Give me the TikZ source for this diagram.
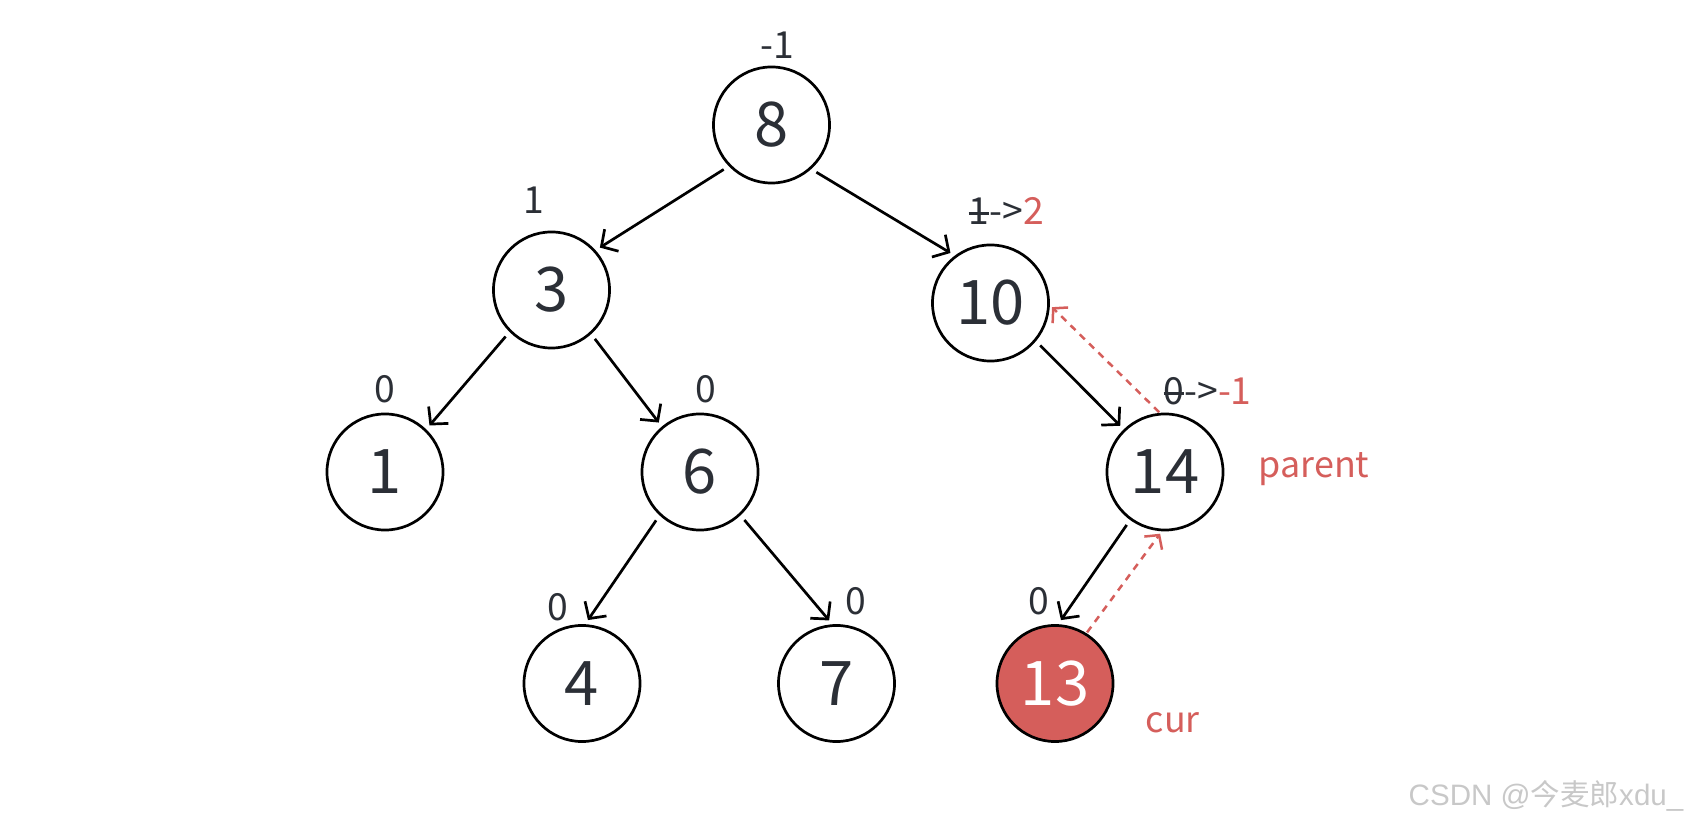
\documentclass[tikz,border=0pt]{standalone}
\usepackage{fontspec}
\setmainfont{Noto Sans CJK SC}
\newfontfamily\wmfont{Liberation Sans}
\newfontfamily\wmcjk{Noto Sans CJK SC}
\usetikzlibrary{arrows.meta}
\definecolor{txt}{HTML}{2B2F36}
\definecolor{redA}{HTML}{D55E5B}
\definecolor{wm}{HTML}{C8C8C8}
\newcommand\mystrike[1]{\setbox0\hbox{#1}\rlap{\rule[0.26em]{\wd0}{0.07em}}#1}
\begin{document}
\begin{tikzpicture}[x=0.01cm,y=-0.01cm,
  nd/.style={circle,draw=black,line width=0.027cm,minimum size=1.16cm,inner sep=0pt,text=txt,font=\fontsize{17.5pt}{20pt}\selectfont},
  lb/.style={inner sep=0pt,text=txt,font=\fontsize{10.6pt}{13pt}\selectfont},
  rl/.style={inner sep=0pt,text=redA,font=\fontsize{10.2pt}{13pt}\selectfont},
  arr/.style={-{Straight Barb[length=0.12cm,width=0.26cm]},line width=0.027cm,shorten <=0.06cm,shorten >=0.05cm},
  rarr/.style={-{Straight Barb[length=0.1cm,width=0.22cm]},draw=redA,line width=0.025cm,dash pattern=on 0.07cm off 0.06cm,shorten <=0.01cm,shorten >=0.03cm}]
\useasboundingbox (0,0) rectangle (1697,828);
% nodes
\node[nd] (n8) at (771.5,125) {8};
\node[nd] (n3) at (551.5,290) {3};
\node[nd] (n10) at (990.5,303) {10};
\node[nd] (n1) at (385,472) {1};
\node[nd] (n6) at (700,472) {6};
\node[nd] (n14) at (1165,472) {14};
\node[nd] (n4) at (582,683.5) {4};
\node[nd] (n7) at (836.5,683.5) {7};
\node[nd,fill=redA,text=white] (n13) at (1055,683.5) {13};
% balance labels
\node[lb] (l8) at (777,45) {-1};
\node[lb] (l3) at (534,200) {1};
\node[lb,anchor=west] (l10) at (968,211) {\mystrike{1}->\textcolor{redA}{2}};
\node[lb] (l1) at (385,389) {0};
\node[lb] (l6) at (706,389) {0};
\node[lb] (l4) at (558,607) {0};
\node[lb] (l7) at (856,601) {0};
\node[lb] (l13) at (1039,601) {0};
\node[lb,anchor=west] (l14) at (1163,391) {\mystrike{0}->\textcolor{redA}{-1}};
\node[rl,anchor=base west] (par) at (1258,478) {parent};
\node[rl,anchor=base west] (cur) at (1145,732) {cur};
\node[inner sep=0pt,anchor=base west,text=wm,font=\fontsize{8.4pt}{10pt}\wmfont] (wmk) at (1408,805) {CSDN @{\wmcjk 今麦郎}xdu\_};
% edges
\draw[arr] (n8.-136) -- (n3.42);
\draw[arr] (n8.-48) -- (n10.127);
\draw[arr] (n3.-135) -- (n1.46);
\draw[arr] (n3.-48) -- (n6.130);
\draw[arr] (n10.-40) -- (n14.134);
\draw[arr] (n6.-133) -- (n4.87);
\draw[arr] (n6.-47) -- (n7.94);
\draw[arr] (n14.-126) -- (n13.87);
% red dashed
\draw[rarr] (n14.95) -- (n10.-2);
\draw[rarr] (n13.58) -- (n14.-93);
\end{tikzpicture}
\end{document}
